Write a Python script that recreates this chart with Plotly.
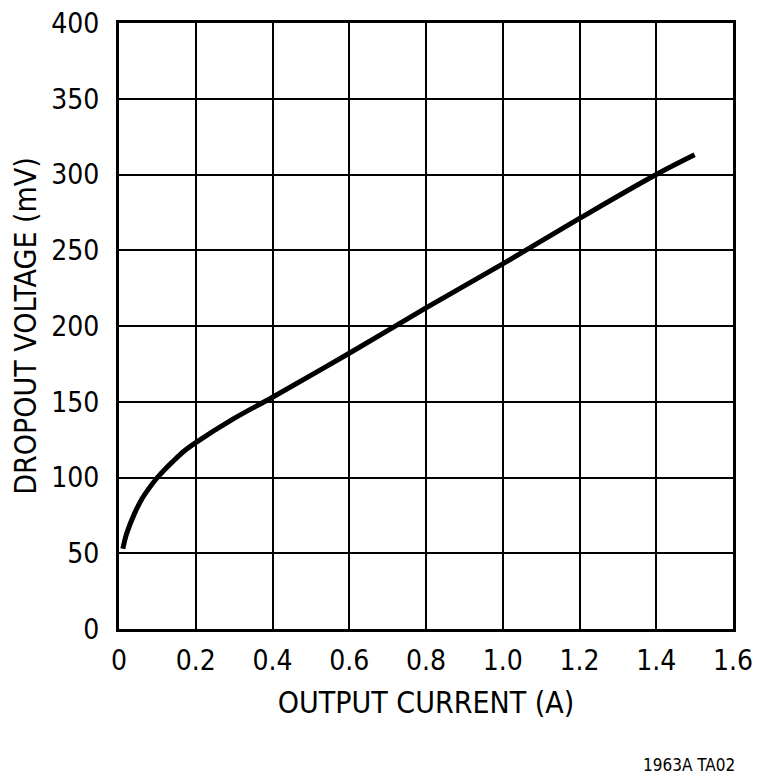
import plotly.graph_objects as go

# dropout voltage vs output current
current_a = [0.01, 0.02, 0.04, 0.06, 0.08, 0.10, 0.12, 0.14, 0.17, 0.20, 0.30, 0.40, 0.60, 0.80, 1.00, 1.20, 1.40, 1.50]
dropout_mv = [53, 63, 76, 86, 93.5, 100, 105.5, 110.5, 117.5, 123, 139, 153, 182, 212, 241, 271, 300, 313]

x_ticks = [0, 0.2, 0.4, 0.6, 0.8, 1.0, 1.2, 1.4, 1.6]
x_labels = ["0", "0.2", "0.4", "0.6", "0.8", "1.0", "1.2", "1.4", "1.6"]
y_ticks = [0, 50, 100, 150, 200, 250, 300, 350, 400]

FONT = "DejaVu Sans Condensed, Liberation Sans Narrow, Arial Narrow, sans-serif"

fig = go.Figure()
fig.add_scatter(x=current_a, y=dropout_mv, mode="lines", line=dict(color="black", width=5, shape="spline"),
                showlegend=False)

# page body adds an 8px offset, margins are shifted to compensate
fig.update_layout(width=760, height=779, margin=dict(l=111, r=35, t=15, b=158),
                  plot_bgcolor="white", paper_bgcolor="white",
                  font=dict(family=FONT, color="black", size=30))

fig.update_xaxes(range=[0, 1.6], tickvals=x_ticks, ticktext=x_labels, showgrid=True, gridcolor="black",
                 gridwidth=1.5, zeroline=False, showline=True, linecolor="black", linewidth=3, mirror=True,
                 ticks="", ticklabelstandoff=4, tickfont=dict(size=28), automargin=False,
                 ticklabeloverflow="allow",
                 title=dict(text="OUTPUT CURRENT (A)", font=dict(size=30), standoff=17))
fig.update_yaxes(range=[0, 400], tickvals=y_ticks, showgrid=True, gridcolor="black",
                 gridwidth=1.5, zeroline=False, showline=True, linecolor="black", linewidth=3, mirror=True,
                 ticks="", ticklabelstandoff=11, tickfont=dict(size=28), automargin=False,
                 ticklabeloverflow="allow",
                 title=dict(text="DROPOUT VOLTAGE (mV)", font=dict(size=30), standoff=22))

fig.add_annotation(text="1963A TA02", xref="paper", yref="paper", x=1.0065, y=-0.2244, xanchor="right",
                   yanchor="middle", showarrow=False, font=dict(size=17))

fig.write_html("out.html")
